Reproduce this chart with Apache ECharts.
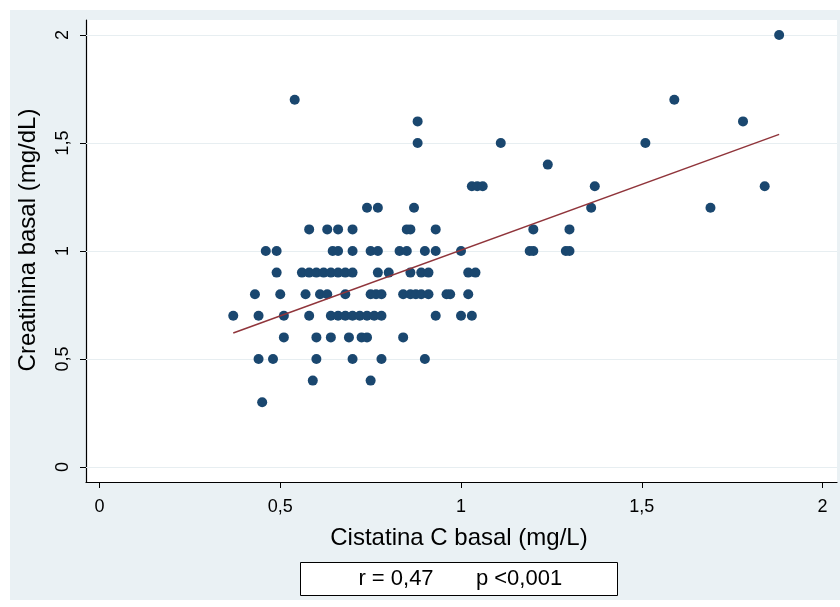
<!DOCTYPE html>
<html>
<head>
<meta charset="utf-8">
<script src="https://cdn.jsdelivr.net/npm/echarts@6/dist/echarts.min.js"></script>
<style>
  html, body { margin: 0; padding: 0; background: #ffffff; }
  #chart { width: 840px; height: 607px; }
</style>
</head>
<body>
<div id="chart"></div>
<script>
// Creatinina basal levels (mg/dL), one row of observations per level
const creatininaLevels = [2.0, 1.7, 1.6, 1.5, 1.4, 1.3, 1.2, 1.1, 1.0, 0.9, 0.8, 0.7, 0.6, 0.5, 0.4, 0.3];
// Cistatina C basal (mg/L) of each observation, grouped by the level above
const cistatinaByLevel = [
  [1.88],
  [0.54, 1.59],
  [0.88, 1.78],
  [0.88, 1.11, 1.51],
  [1.24],
  [1.03, 1.045, 1.06, 1.37, 1.84],
  [0.74, 0.77, 0.87, 1.36, 1.69],
  [0.58, 0.63, 0.66, 0.70, 0.85, 0.86, 0.93, 1.20, 1.30],
  [0.46, 0.49, 0.645, 0.66, 0.70, 0.75, 0.77, 0.83, 0.85, 0.90, 0.93, 1.00, 1.19, 1.20, 1.29, 1.30],
  [0.49, 0.56, 0.58, 0.60, 0.62, 0.64, 0.66, 0.68, 0.70, 0.77, 0.80, 0.86, 0.89, 0.91, 1.02, 1.04],
  [0.43, 0.50, 0.57, 0.61, 0.63, 0.68, 0.75, 0.765, 0.78, 0.84, 0.86, 0.875, 0.89, 0.91, 0.96, 0.97, 1.02],
  [0.37, 0.44, 0.51, 0.58, 0.64, 0.66, 0.68, 0.70, 0.72, 0.74, 0.76, 0.78, 0.93, 1.00, 1.03],
  [0.51, 0.60, 0.64, 0.69, 0.725, 0.74, 0.84],
  [0.44, 0.48, 0.60, 0.70, 0.78, 0.90],
  [0.59, 0.75],
  [0.45]
];
// Linear fit: creatinina = fitIntercept + fitSlope * cistatina
const fitIntercept = 0.395;
const fitSlope = 0.609;
// Tick values shared by both axes
const tickValues = [0, 0.5, 1, 1.5, 2];
const xTitle = 'Cistatina C basal (mg/L)';
const yTitle = 'Creatinina basal (mg/dL)';
const statR = 'r = 0,47';
const statP = 'p <0,001';

const points = [];
creatininaLevels.forEach((lvl, i) => {
  cistatinaByLevel[i].forEach(c => points.push([c, lvl]));
});
const xs = points.map(p => p[0]);
const xMin = Math.min.apply(null, xs);
const xMax = Math.max.apply(null, xs);
const fitLine = [
  [xMin, fitIntercept + fitSlope * xMin],
  [xMax, fitIntercept + fitSlope * xMax]
];

const FONT = "'Liberation Sans', Arial, sans-serif";
const fmt = v => String(v).replace('.', ',');

const chart = echarts.init(document.getElementById('chart'), null, { renderer: 'canvas' });
chart.setOption({
  backgroundColor: '#ffffff',
  animation: false,
  graphic: [
    { type: 'rect', z: -100, silent: true,
      shape: { x: 10, y: 10, width: 830, height: 590 },
      style: { fill: '#eaf1f4' } },
    { type: 'text', z: 100, x: 459, y: 538,
      style: { text: xTitle, font: '24px ' + FONT, fill: '#000', align: 'center', verticalAlign: 'middle' } },
    { type: 'text', z: 100, x: 28, y: 240, rotation: Math.PI / 2,
      style: { text: yTitle, font: '24px ' + FONT, fill: '#000', align: 'center', verticalAlign: 'middle' } },
    { type: 'rect', z: 100,
      shape: { x: 300.5, y: 562.5, width: 317, height: 33 },
      style: { fill: '#ffffff', stroke: '#000000', lineWidth: 1 } },
    { type: 'text', z: 101, x: 396, y: 579,
      style: { text: statR, font: '22px ' + FONT, fill: '#000', align: 'center', verticalAlign: 'middle' } },
    { type: 'text', z: 101, x: 519, y: 579,
      style: { text: statP, font: '22px ' + FONT, fill: '#000', align: 'center', verticalAlign: 'middle' } }
  ],
  grid: {
    left: 86, top: 20, width: 751, height: 462,
    show: true, backgroundColor: '#ffffff', borderWidth: 0
  },
  xAxis: {
    type: 'value', min: -0.0373, max: 2.040,
    axisLine: { show: true, onZero: false, lineStyle: { color: '#000', width: 1.2 } },
    axisTick: { show: true, customValues: tickValues, length: 6, lineStyle: { color: '#000' } },
    axisLabel: { customValues: tickValues, formatter: fmt, fontFamily: FONT, fontSize: 18, color: '#000', margin: 16 },
    splitLine: { show: false }
  },
  yAxis: {
    type: 'value', min: -0.0694, max: 2.0694,
    axisLine: { show: true, onZero: false, lineStyle: { color: '#000', width: 1.2 } },
    axisTick: { show: true, customValues: tickValues, length: 6, lineStyle: { color: '#000' } },
    axisLabel: { customValues: tickValues, formatter: fmt, rotate: 90, fontFamily: FONT, fontSize: 18, color: '#000', margin: 14 },
    splitLine: { show: false }
  },
  series: [
    {
      type: 'scatter', name: 'grid', data: [], silent: true,
      markLine: {
        silent: true, symbol: ['none', 'none'], animation: false,
        label: { show: false },
        lineStyle: { color: '#e7eef1', width: 1.2, type: 'solid' },
        data: tickValues.map(v => ({ yAxis: v }))
      }
    },
    {
      type: 'scatter', name: 'obs', data: points,
      symbol: 'circle', symbolSize: 10,
      itemStyle: { color: '#1a476f', opacity: 1 },
      z: 5
    },
    {
      type: 'line', name: 'fit', data: fitLine,
      showSymbol: false, symbol: 'none',
      lineStyle: { color: '#90353b', width: 1.5 },
      z: 6
    }
  ]
});
</script>
</body>
</html>
